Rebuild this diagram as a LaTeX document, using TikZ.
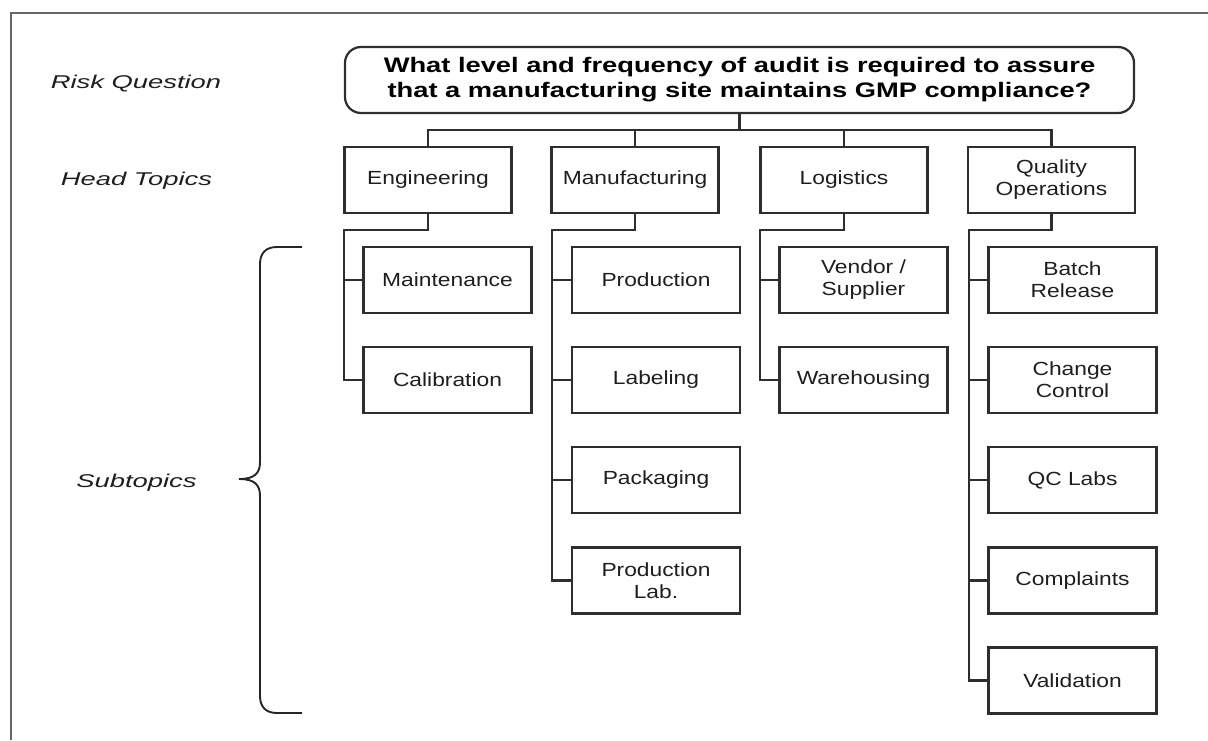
\documentclass[tikz,border=0pt]{standalone}
\usepackage{fontspec}
\setmainfont{Liberation Sans}
\newfontfamily\qfont[FakeStretch=1.3]{Liberation Sans}
\newfontfamily\bfontfam[FakeStretch=1.2]{Liberation Sans}
\newfontfamily\lfont[FakeStretch=1.48]{Liberation Sans}
\definecolor{edge}{HTML}{2E2E2E}
\definecolor{txt}{HTML}{1E1E1E}
\begin{document}
\begin{tikzpicture}[x=1pt,y=-1pt,
  line width=2.2pt,
  qbox/.style={draw=edge,line width=2.2pt,rounded corners=16pt,minimum width=789pt,minimum height=66pt,inner sep=0pt,align=center,
    font=\qfont\bfseries\fontsize{21}{25}\selectfont,text=black},
  hbox/.style={draw=edge,line width=2.2pt,minimum width=167pt,minimum height=66pt,inner sep=0pt,align=center,
    font=\bfontfam\fontsize{19}{22}\selectfont,text=txt},
  sbox/.style={hbox,minimum width=168pt},
  lbl/.style={anchor=base,font=\lfont\itshape\fontsize{18.5}{22}\selectfont,text=txt},
  conn/.style={draw=edge,line width=2.2pt}]
\useasboundingbox (0,0) rectangle (1208,740);
% frame
\draw[draw=gray!80!black,line width=2.2pt] (11,740) -- (11,13) -- (1208,13);
% labels
\node[lbl] (lq) at (136,88) {Risk Question};
\node[lbl] (lh) at (136.5,185) {Head Topics};
\node[lbl] (ls) at (136.5,487) {Subtopics};
% brace
\draw[line width=1.9pt,draw=black!85] (302,247) -- (277,247) .. controls (266,247) and (260,253) .. (260,264) -- (260,462) .. controls (260,473) and (255,479) .. (239,479) .. controls (255,479) and (260,485) .. (260,496) -- (260,696) .. controls (260,707) and (266,713) .. (277,713) -- (302,713);
% question
\node[qbox] (q) at (739.5,80) {What level and frequency of audit is required to assure\\that a manufacturing site maintains GMP compliance?};
% head topics
\node[hbox] (eng) at (428,180) {Engineering};
\node[hbox] (man) at (635,180) {Manufacturing};
\node[hbox] (log) at (844,180) {Logistics};
\node[hbox] (qo) at (1051.5,180) {Quality\\Operations};
% subtopics
\node[sbox] (mnt) at (447.5,280) {Maintenance};
\node[sbox] (cal) at (447.5,380) {Calibration};
\node[sbox] (prd) at (656,280) {Production};
\node[sbox] (lab) at (656,380) {Labeling};
\node[sbox] (pkg) at (656,480) {Packaging};
\node[sbox] (plb) at (656,580.5) {Production\\Lab.};
\node[sbox] (ven) at (863.5,280) {Vendor /\\Supplier};
\node[sbox] (whs) at (863.5,380) {Warehousing};
\node[sbox] (bat) at (1072.5,280) {Batch\\Release};
\node[sbox] (chg) at (1072.5,380) {Change\\Control};
\node[sbox] (qcl) at (1072.5,480) {QC Labs};
\node[sbox] (cmp) at (1072.5,580.5) {Complaints};
\node[sbox] (val) at (1072.5,680.5) {Validation};
% connectors
\coordinate (bus) at (739.5,130);
\draw[conn] (q.south) -- (bus);
\draw[conn] (bus) -| (eng.north);
\draw[conn] (bus) -| (man.north);
\draw[conn] (bus) -| (log.north);
\draw[conn] (bus) -| (qo.north);
\coordinate (ej) at (344,230);
\coordinate (mj) at (552,230);
\coordinate (lj) at (760,230);
\coordinate (qj) at (969,230);
\draw[conn] (eng.south) |- (ej) |- (mnt.west);
\draw[conn] (ej) |- (cal.west);
\draw[conn] (man.south) |- (mj) |- (prd.west);
\draw[conn] (mj) |- (lab.west);
\draw[conn] (mj) |- (pkg.west);
\draw[conn] (mj) |- (plb.west);
\draw[conn] (log.south) |- (lj) |- (ven.west);
\draw[conn] (lj) |- (whs.west);
\draw[conn] (qo.south) |- (qj) |- (bat.west);
\draw[conn] (qj) |- (chg.west);
\draw[conn] (qj) |- (qcl.west);
\draw[conn] (qj) |- (cmp.west);
\draw[conn] (qj) |- (val.west);
\end{tikzpicture}
\end{document}
